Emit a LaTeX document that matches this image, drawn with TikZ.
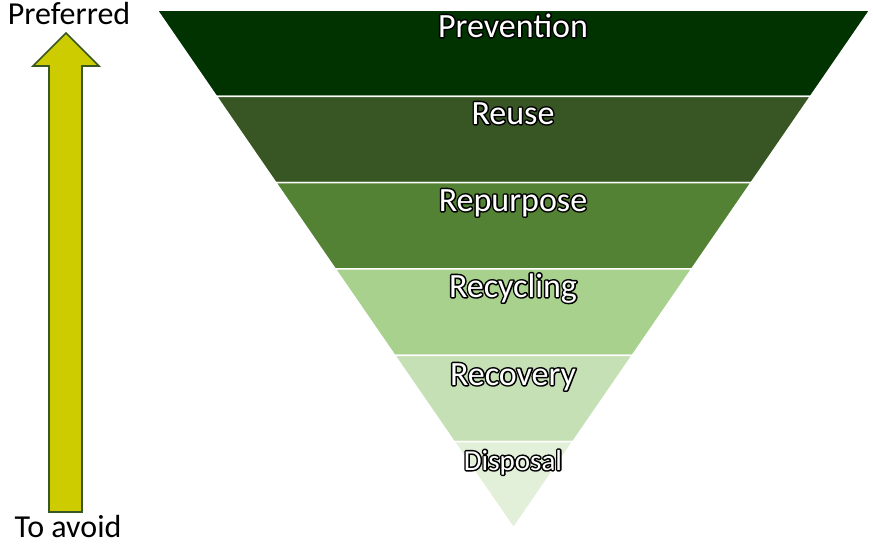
\documentclass[tikz,border=0pt]{standalone}
\usepackage{fontspec}
\setmainfont{Carlito}
\definecolor{bandA}{HTML}{003300}
\definecolor{bandB}{HTML}{375623}
\definecolor{bandC}{HTML}{548235}
\definecolor{bandD}{HTML}{A9D18E}
\definecolor{bandE}{HTML}{C5E0B4}
\definecolor{bandF}{HTML}{E2F0D9}
\definecolor{arrowfill}{HTML}{CCCC00}
\definecolor{arrowline}{HTML}{385723}
% black rim under white letters
\newcommand{\outlined}[1]{\rlap{\special{pdf:code 0 0 0 RG 3 w 1 j 1 Tr}#1\special{pdf:code 0 Tr}}#1}
\tikzstyle{band} = [draw=white, line width=1.5pt]
\tikzstyle{level} = [text=white, anchor=base, inner sep=0pt, font=\fontsize{34}{34}\selectfont]
\tikzstyle{sidetext} = [anchor=base, inner sep=0pt, font=\fontsize{32}{32}\selectfont]
\tikzstyle{updown} = [fill=arrowfill, draw=arrowline, line width=1.6pt, line join=miter]

\begin{document}
\begin{tikzpicture}[x=1pt, y=-1pt]
    \useasboundingbox (0,0) rectangle (873,544);
    % Bands
    \foreach \c [count=\i from 0] in {bandA,bandB,bandC,bandD,bandE,bandF} {
        \pgfmathsetmacro{\ytop}{10+\i*86.33}
        \pgfmathsetmacro{\ybot}{\ytop+86.33}
        \pgfmathsetmacro{\lt}{157+(\ytop-10)*0.6882}
        \pgfmathsetmacro{\lb}{157+(\ybot-10)*0.6882}
        \pgfmathsetmacro{\rt}{870-(\ytop-10)*0.6882}
        \pgfmathsetmacro{\rb}{870-(\ybot-10)*0.6882}
        \filldraw [band, fill=\c] (\lt,\ytop) -- (\rt,\ytop) -- (\rb,\ybot) -- (\lb,\ybot) -- cycle;
    }
    % Nodes
    \node (prevention) [level] at (513,37) {\outlined{Prevention}};
    \node (reuse) [level] at (513,124) {\outlined{Reuse}};
    \node (repurpose) [level] at (513,211) {\outlined{Repurpose}};
    \node (recycling) [level] at (513,297) {\outlined{Recycling}};
    \node (recovery) [level] at (513,385) {\outlined{Recovery}};
    \node (disposal) [level, font=\fontsize{29}{29}\selectfont] at (513,470) {\outlined{Disposal}};
    \node (preferred) [sidetext] at (69,24) {Preferred};
    \node (toavoid) [sidetext] at (68,537) {To avoid};
    % Arrow
    \draw [updown] (66,33) -- (99,66) -- (82,66) -- (82,512) -- (49,512) -- (49,66) -- (33,66) -- cycle;
\end{tikzpicture}
\end{document}
